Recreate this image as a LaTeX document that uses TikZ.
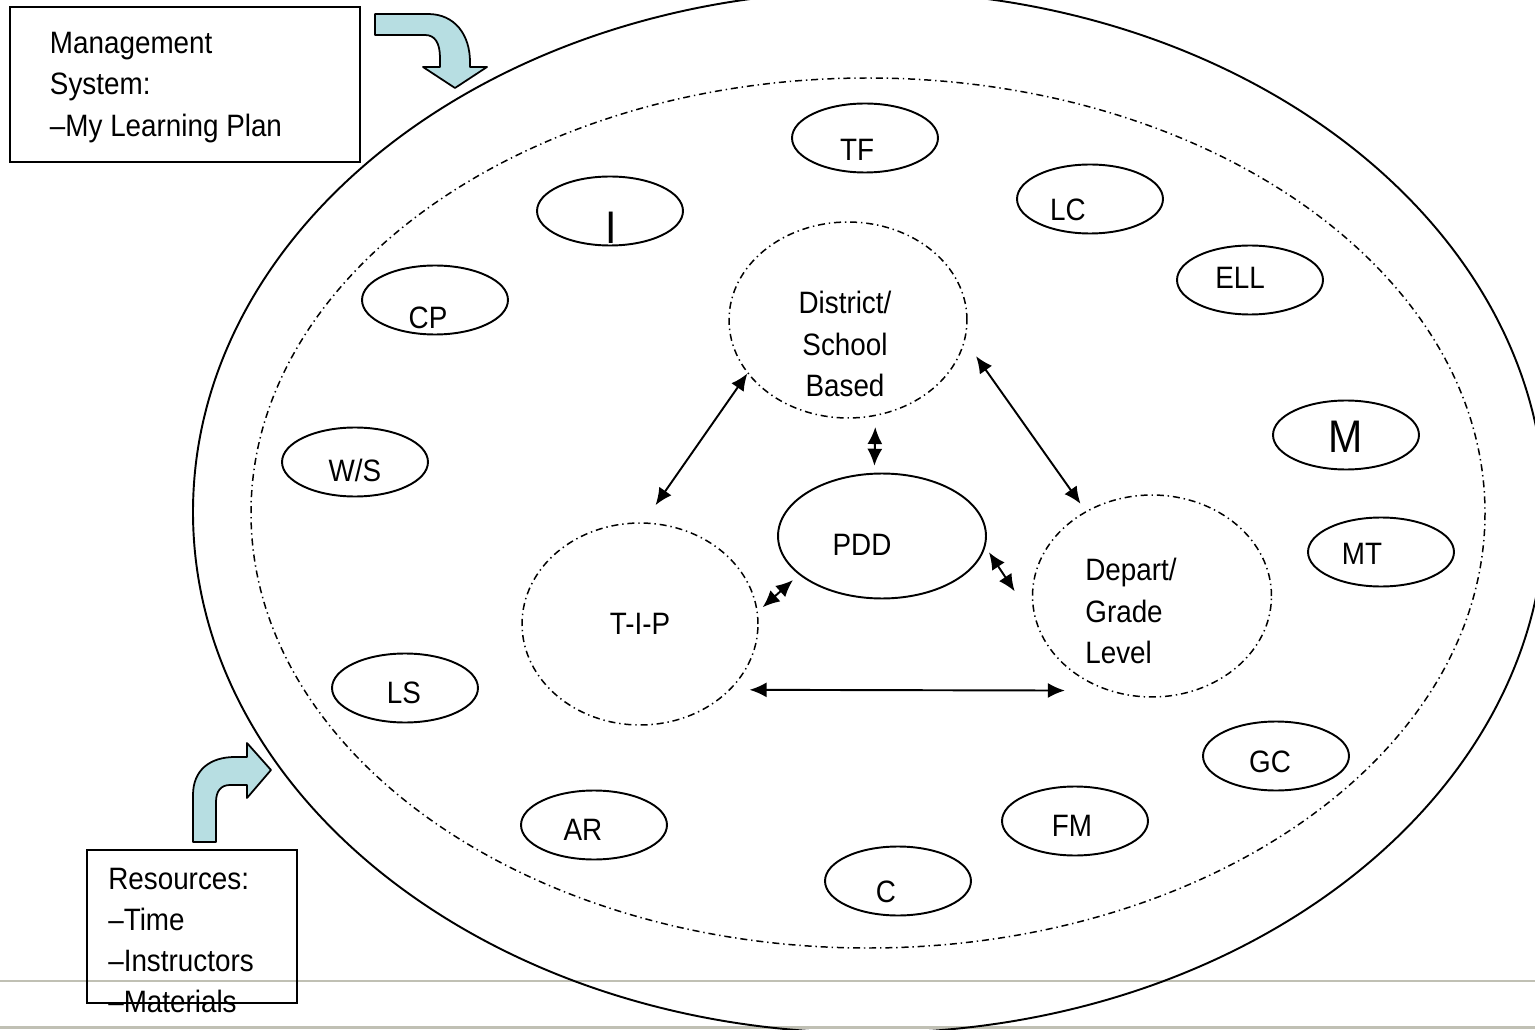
\documentclass[tikz,border=0pt]{standalone}
\usepackage{fontspec}
\setmainfont[FakeStretch=0.9]{Liberation Sans}
\usetikzlibrary{shapes.geometric,arrows.meta}
\definecolor{arrowblue}{RGB}{183,222,226}
\definecolor{slidegray}{RGB}{192,192,180}
\tikzset{
  dd/.style={line width=0.85pt,dash pattern=on 4pt off 2.2pt on 0.8pt off 2.2pt},
  bub/.style={draw,ellipse,line width=1.1pt,minimum width=2.92cm,minimum height=1.38cm,inner sep=0pt},
  grp/.style={draw,ellipse,dd,inner sep=0pt},
  lnk/.style={{Latex[length=0.34cm,width=0.3cm]}-{Latex[length=0.34cm,width=0.3cm]},line width=1.1pt},
  note/.style={draw,line width=1.1pt,inner sep=0pt},
  bent/.style={fill=arrowblue,draw=black,line width=1pt,line join=round},
  big/.style={font=\fontsize{26}{30}\selectfont}
}
\begin{document}
\begin{tikzpicture}[x=0.02cm,y=-0.02cm,font=\fontsize{17.6}{23.5}\selectfont]
   \useasboundingbox (0,0) rectangle (1535,1030);
   \clip (0,0) rectangle (1535,1030);
   \draw[slidegray,line width=1.7pt] (0,981) -- (1535,981);
   \draw[slidegray,line width=1.7pt] (0,1027) -- (1535,1027);
   \draw[line width=1.1pt] (869,512) ellipse (676 and 521);
   \draw[dd] (868,513) ellipse (617 and 435);

   \node[bub,label={[shift={(-8,12)}]center:TF}] (tf) at (865,138) {};
   \node[bub,label={[big,shift={(1,17)}]center:I}] (i) at (610,211) {};
   \node[bub,label={[shift={(-22,11)}]center:LC}] (lc) at (1090,199) {};
   \node[bub,label={[shift={(-10,-2)}]center:ELL}] (ell) at (1250,280) {};
   \node[bub,label={[shift={(-7,18)}]center:CP}] (cp) at (435,300) {};
   \node[bub,label={[big,shift={(0,2)}]center:M}] (m) at (1346,435) {};
   \node[bub,label={[shift={(0,8)}]center:W/S}] (ws) at (355,462) {};
   \node[bub,label={[shift={(-19,2)}]center:MT}] (mt) at (1381,552) {};
   \node[bub,label={[shift={(-1,5)}]center:LS}] (ls) at (405,688) {};
   \node[bub,label={[shift={(-6,6)}]center:GC}] (gc) at (1276,756) {};
   \node[bub,label={[shift={(-11,5)}]center:AR}] (ar) at (594,825) {};
   \node[bub,label={[shift={(-3,5)}]center:FM}] (fm) at (1075,821) {};
   \node[bub,label={[shift={(-12,11)}]center:C}] (c) at (898,881) {};

   \node[bub,minimum width=4.16cm,minimum height=2.5cm,label={[shift={(-20,9)}]center:PDD}] (pdd) at (882,536) {};
   \node[grp,minimum width=4.76cm,minimum height=3.92cm,label={[align=center,shift={(-3,24)}]center:{District/\\School\\Based}}] (dsb) at (848,320) {};
   \node[grp,minimum width=4.72cm,minimum height=4.04cm] (tip) at (640,624) {T-I-P};
   \node[grp,minimum width=4.78cm,minimum height=4.04cm,label={[align=left,shift={(-21,15)}]center:{Depart/\\Grade\\Level}}] (dgl) at (1152,596) {};

   \draw[lnk,shorten >=0.42cm] (dsb.208) -- (tip.88);
   \draw[lnk,shorten <=0.38cm,shorten >=0.18cm] (dsb.-10.5) -- (dgl.128.6);
   \draw[lnk,shorten <=0.22cm,shorten >=0.14cm] (dsb.-74.8) -- (pdd.97.4);
   \draw[lnk,shorten <=0.16cm,shorten >=0.13cm] (pdd.205.7) -- (tip.6.3);
   \draw[lnk,shorten <=0.13cm,shorten >=0.8cm] (pdd.-6) -- (dgl.194.4);
   \draw[lnk,shorten <=0.38cm,shorten >=0.86cm] (tip.-36.6) -- (dgl.245);

   \draw[bent] (375,14) -- (428,14) .. controls (455,14) and (470,35) .. (470,62) -- (470,67) -- (487,67) -- (455,88) -- (423,67) -- (440,67) -- (440,58) .. controls (440,43) and (435,35) .. (425,35) -- (375,35) -- cycle;
   \draw[bent] (193,842) -- (193,795) .. controls (193,770) and (210,757) .. (235,757) -- (247,757) -- (247,743) -- (271,770) -- (247,798) -- (247,785) -- (230,785) .. controls (221,785) and (216,791) .. (216,802) -- (216,842) -- cycle;

   \node[note,minimum width=7cm,minimum height=3.1cm,label={[align=left,shift={(-19,3)}]center:{Management\\System:\\–My Learning Plan}}] (mgmt) at (185,84.5) {};
   \node[note,minimum width=4.2cm,minimum height=3.06cm,label={[align=left,shift={(-11,14)}]center:{Resources:\\–Time\\–Instructors\\–Materials}}] (res) at (192,926.5) {};
\end{tikzpicture}
\end{document}
